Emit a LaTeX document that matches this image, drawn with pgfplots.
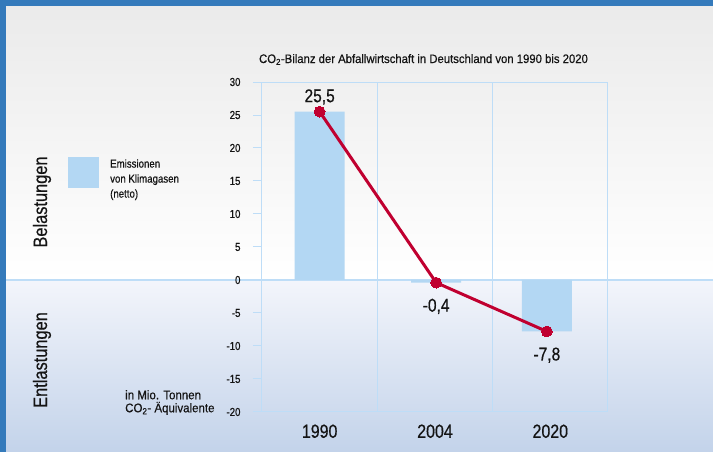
\documentclass[border=0pt]{standalone}
\usepackage{fontspec}
\setmainfont{Liberation Sans}[FakeStretch=0.84, FakeBold=0.5]
\newfontfamily\titlefont{Liberation Sans}[FakeStretch=0.92, FakeBold=0.5]
\usepackage{pgfplots}
\pgfplotsset{compat=1.18}

\definecolor{frameblue}{RGB}{190,221,247}
\definecolor{barblue}{RGB}{179,215,243}
\definecolor{linered}{RGB}{192,0,48}
\definecolor{edgeblue}{RGB}{52,122,187}
\definecolor{topgray}{RGB}{234,234,234}
\definecolor{lowtop}{RGB}{243,245,251}
\definecolor{lowbot}{RGB}{195,211,234}
\definecolor{txt}{RGB}{20,20,20}

\begin{document}
\begin{tikzpicture}[x=1pt,y=1pt]
\useasboundingbox (0,0) rectangle (713,452);
\shade[top color=topgray, bottom color=white] (0,172) rectangle (713,452);
\shade[top color=lowtop, bottom color=lowbot] (0,0) rectangle (713,172);
\fill[edgeblue] (0,0) rectangle (6,452);
\fill[edgeblue] (0,446) rectangle (713,452);
\draw[frameblue, line width=1.5pt] (6,172) -- (713,172);

\begin{axis}[
  at={(262pt,40pt)}, anchor=south west,
  scale only axis, width=346pt, height=330pt,
  xmin=-0.5, xmax=2.5, ymin=-20, ymax=30,
  axis line style={draw=frameblue, line width=1pt},
  xtick={0,1,2}, xticklabels={1990,2004,2020},
  minor xtick={0.5,1.5}, xminorgrids,
  minor grid style={draw=frameblue, line width=1pt},
  ytick={-20,-15,...,30},
  yticklabels={-20,-15,-10,-5,0,5,10,15,20,25,30},
  ytick pos=left, xtick pos=bottom,
  tick align=outside, major tick length=9pt, minor tick length=0pt,
  ytick style={draw=frameblue, line width=1pt},
  xtick style={draw=none},
  yticklabel style={font=\fontsize{11.5}{12}\selectfont, text=txt, xshift=-9pt},
  xticklabel style={font=\fontsize{19}{20}\selectfont, text=txt},
  every axis title/.style={at={(0.4668,1)}, anchor=base, yshift=19pt,
    font=\titlefont\fontsize{12.3}{13}\selectfont, text=txt},
  title={CO\textsubscript{2}-Bilanz der Abfallwirtschaft in Deutschland von 1990 bis 2020},
  clip=false,
  legend style={draw=none, fill=none, at={(axis description cs:-0.5607,0.7727)},
    anchor=north west, font=\fontsize{11.5}{15}\selectfont, text=txt,
    cells={align=left}, inner sep=0pt, column sep=9pt},
  lab/.style={draw=none, mark=none, nodes near coords, point meta=explicit symbolic,
    nodes near coords style={anchor=base, inner sep=0pt,
      font=\fontsize{18.5}{19}\selectfont, text=txt}},
]
\addplot[ybar, bar width=50pt, fill=barblue, draw=none,
  legend image code/.code={\fill[barblue] (0pt,-9pt) rectangle (31pt,22pt);}]
  coordinates {(0,25.5) (1.01,-0.4) (1.97,-7.8)};
\addlegendentry{Emissionen\\von Klimagasen\\(netto)}
\addplot[linered, line width=3pt, mark=*, mark size=5.4pt,
  mark options={fill=linered, draw=linered, line width=0pt}]
  coordinates {(0,25.5) (1.01,-0.4) (1.97,-7.8)};
\addplot[lab, nodes near coords style={yshift=9.5pt}]
  coordinates {(0,25.5) [25,5]};
\addplot[lab, nodes near coords style={yshift=-29pt}]
  coordinates {(1.01,-0.4) [-0,4] (1.97,-7.8) [-7,8]};
\end{axis}

\node[rotate=90, anchor=base, font=\fontsize{19.5}{20}\selectfont, text=txt] at (47,250) {Belastungen};
\node[rotate=90, anchor=base, font=\fontsize{19.5}{20}\selectfont, text=txt] at (47,92) {Entlastungen};
\node[anchor=north west, align=left, inner sep=0pt, font=\titlefont\fontsize{12.5}{13}\selectfont, text=txt]
  at (125,62) {in Mio. Tonnen\\CO\textsubscript{2}- Äquivalente};
\end{tikzpicture}
\end{document}
